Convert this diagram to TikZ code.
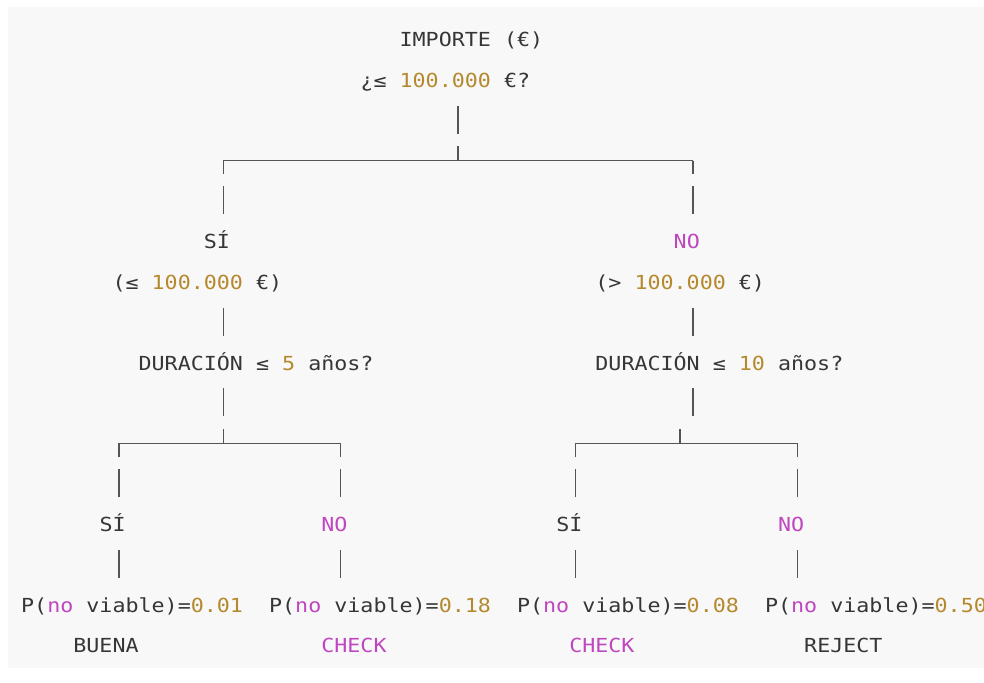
\documentclass[tikz,border=0pt]{standalone}
\usepackage{fontspec}
\newfontfamily\codefont[FakeStretch=1.12]{DejaVu Sans Mono}
\usetikzlibrary{calc}

\definecolor{ink}{HTML}{363636}
\definecolor{rule}{HTML}{555555}
\definecolor{num}{HTML}{B5892D}
\definecolor{kw}{HTML}{C046C0}
\definecolor{paper}{HTML}{F8F8F8}
\newcommand{\nm}[1]{\textcolor{num}{#1}}
\newcommand{\kw}[1]{\textcolor{kw}{#1}}

\tikzset{
  txt/.style={anchor=base west, inner sep=0pt, text=ink,
    font=\codefont\fontsize{19.35}{24}\selectfont\frenchspacing},
  wire/.style={draw=rule, line width=1.5pt},
  bars/.style={wire, dash pattern=on 28pt off 12.4pt},
}

\begin{document}
\begin{tikzpicture}[x=13.05pt, y=-40.4pt]
\useasboundingbox (-21pt,6.4pt) rectangle (963pt,-675.6pt);
\fill[paper] (-13pt,-0.6pt) rectangle (963pt,-661.6pt);

% root question
\node[txt] (imp) at (29,1) {IMPORTE (€)};
\node[txt] (q0)  at (26,2) {¿≤ \nm{100.000} €?};

% first split
\coordinate (j0)  at ($(33.5,4)+(0,7.5pt)$);
\coordinate (j0l) at ($(15.5,4)+(0,7.5pt)$);
\coordinate (j0r) at ($(51.5,4)+(0,7.5pt)$);

\node[txt] (si1) at (14,6) {SÍ};
\node[txt] (no1) at (50,6) {\kw{NO}};
\node[txt] (lt1) at (7,7)  {(≤ \nm{100.000} €)};
\node[txt] (gt1) at (44,7) {(> \nm{100.000} €)};
\node[txt] (dur1) at (9,9)  {DURACIÓN ≤ \nm{5} años?};
\node[txt] (dur2) at (44,9) {DURACIÓN ≤ \nm{10} años?};

% second split
\coordinate (j1)  at ($(15.5,11)+(0,7.5pt)$);
\coordinate (j1l) at ($(7.5,11)+(0,7.5pt)$);
\coordinate (j1r) at ($(24.5,11)+(0,7.5pt)$);
\coordinate (j2)  at ($(50.5,11)+(0,7.5pt)$);
\coordinate (j2l) at ($(42.5,11)+(0,7.5pt)$);
\coordinate (j2r) at ($(59.5,11)+(0,7.5pt)$);

\node[txt] (si11) at (6,13)  {SÍ};
\node[txt] (no12) at (23,13) {\kw{NO}};
\node[txt] (si21) at (41,13) {SÍ};
\node[txt] (no22) at (58,13) {\kw{NO}};

% leaves
\node[txt] (p11) at (0,15)  {P(\kw{no} viable)=\nm{0.01}};
\node[txt] (p12) at (19,15) {P(\kw{no} viable)=\nm{0.18}};
\node[txt] (p21) at (38,15) {P(\kw{no} viable)=\nm{0.08}};
\node[txt] (p22) at (57,15) {P(\kw{no} viable)=\nm{0.50}};
\node[txt] (res11) at (4,16)  {BUENA};
\node[txt] (res12) at (23,16) {\kw{CHECK}};
\node[txt] (res21) at (42,16) {\kw{CHECK}};
\node[txt] (res22) at (60,16) {REJECT};

% brackets
\draw[wire] (j0l) -- (j0r);
\draw[wire] (j1l) -- (j1r);
\draw[wire] (j2l) -- (j2r) (j2) -- ++(0,14.5pt);

% bars
\draw[bars] ($(q0.base -| j0)+(0,-18.4pt)$) -- (j0);
\draw[bars, dash phase=14.5pt] (j0l) -- ($(si1.base -| j0l)+(0,28.8pt)$);
\draw[bars, dash phase=14.5pt] (j0r) -- ($(no1.base -| j0r)+(0,28.8pt)$);
\draw[bars] ($(lt1.base -| j0l)+(0,-18.4pt)$) -- ($(dur1.base -| j0l)+(0,28.8pt)$);
\draw[bars] ($(gt1.base -| j0r)+(0,-18.4pt)$) -- ($(dur2.base -| j0r)+(0,28.8pt)$);
\draw[bars] ($(dur1.base -| j1)+(0,-18.4pt)$) -- (j1);
\draw[bars] ($(dur2.base -| j0r)+(0,-18.4pt)$) -- ($(dur2.base -| j0r)+(0,-50pt)$);
\foreach \j/\up/\dn in {j1l/si11/p11, j1r/no12/p12, j2l/si21/p21, j2r/no22/p22} {
  \draw[bars, dash phase=14.5pt] (\j) -- ($(\up.base -| \j)+(0,28.8pt)$);
  \draw[bars] ($(\up.base -| \j)+(0,-18.4pt)$) -- ($(\dn.base -| \j)+(0,28.8pt)$);
}
\end{tikzpicture}
\end{document}
